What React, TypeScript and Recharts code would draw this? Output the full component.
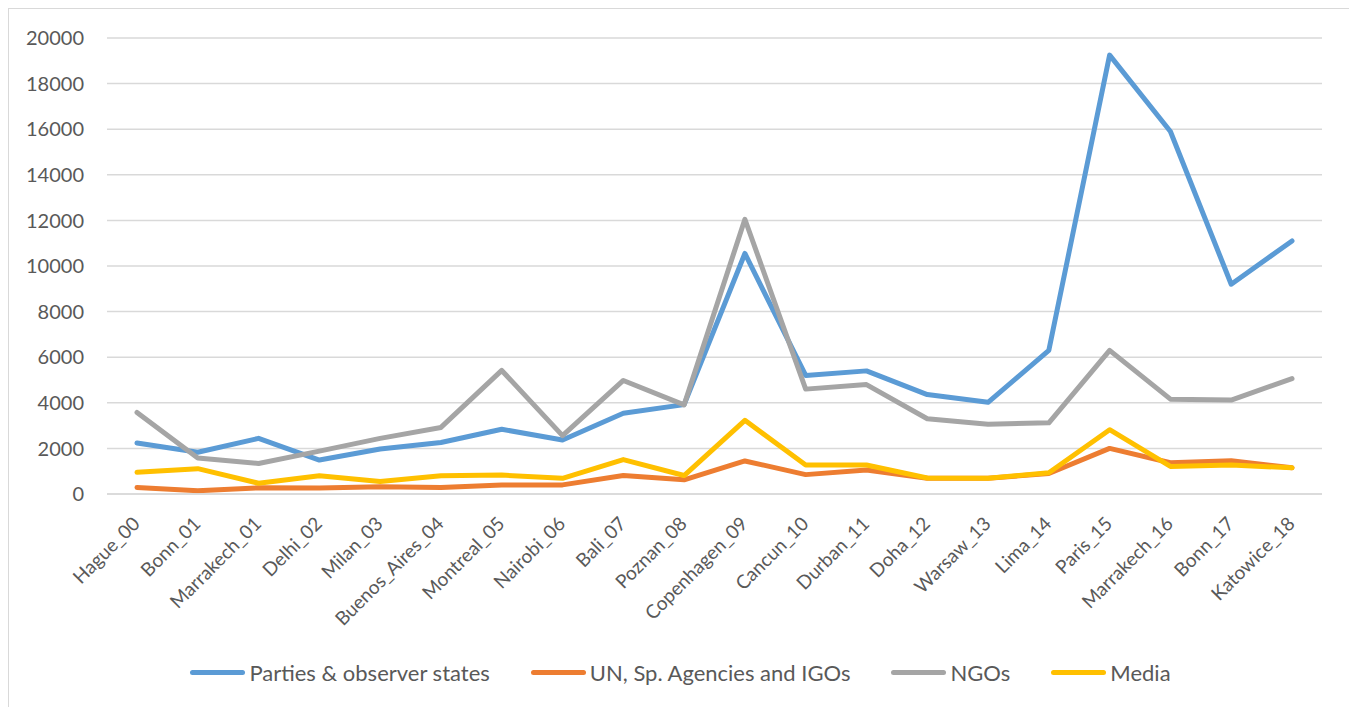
import React from "react";
import { LineChart, Line, XAxis, YAxis, CartesianGrid, Legend } from "recharts";

const categories = [
  "Hague_00", "Bonn_01", "Marrakech_01", "Delhi_02", "Milan_03", "Buenos_Aires_04",
  "Montreal_05", "Nairobi_06", "Bali_07", "Poznan_08", "Copenhagen_09", "Cancun_10",
  "Durban_11", "Doha_12", "Warsaw_13", "Lima_14", "Paris_15", "Marrakech_16",
  "Bonn_17", "Katowice_18",
];
const parties = [2240, 1830, 2440, 1490, 1970, 2260, 2840, 2370, 3540, 3920, 10550, 5200, 5400, 4360, 4020, 6300, 19250, 15900, 9200, 11100];
const unAgencies = [290, 140, 270, 260, 320, 280, 400, 400, 810, 620, 1450, 850, 1050, 690, 690, 900, 2000, 1370, 1460, 1150];
const ngos = [3580, 1580, 1340, 1880, 2440, 2920, 5420, 2560, 4980, 3910, 12050, 4600, 4800, 3300, 3060, 3120, 6300, 4160, 4120, 5060];
const media = [950, 1110, 470, 800, 550, 800, 830, 690, 1510, 810, 3230, 1270, 1270, 700, 690, 930, 2820, 1210, 1270, 1150];
const yTicks = [0, 2000, 4000, 6000, 8000, 10000, 12000, 14000, 16000, 18000, 20000];

const seriesDefs = [
  { key: "parties", name: "Parties & observer states", color: "#5B9BD5", values: parties },
  { key: "un", name: "UN, Sp. Agencies and IGOs", color: "#ED7D31", values: unAgencies },
  { key: "ngos", name: "NGOs", color: "#A5A5A5", values: ngos },
  { key: "media", name: "Media", color: "#FFC000", values: media },
];

const data = categories.map((c, i) => {
  const row: any = { name: c };
  seriesDefs.forEach((s) => (row[s.key] = s.values[i]));
  return row;
});

const FONT = "Lato, 'Open Sans', sans-serif";
const TEXT = "#595959";

const XTick = (props: any) => {
  const { x, y, payload } = props;
  return (
    <g transform={`translate(${x + 4},${y + 31})`}>
      <text
        x={0}
        y={0}
        transform="rotate(-45)"
        textAnchor="end"
        fill={TEXT}
        fontSize={19}
        fontFamily={FONT}
      >
        {payload.value}
      </text>
    </g>
  );
};

const LegendContent = () => {
  return (
    <div style={{ display: "flex", justifyContent: "center", alignItems: "center", fontFamily: FONT, fontSize: 22, color: TEXT, height: 40, paddingLeft: 30 }}>
      {seriesDefs.map((s, i) => (
        <div key={s.key} style={{ display: "flex", alignItems: "center", marginRight: i < 3 ? 41 : 0 }}>
          <span style={{ display: "inline-block", width: 55, height: 5, borderRadius: 3, background: s.color, marginRight: 4 }} />
          <span>{s.name}</span>
        </div>
      ))}
    </div>
  );
};

export default function App() {
  return (
    <div style={{ width: 1341, height: 698, border: "1px solid #d9d9d9", boxSizing: "content-box", background: "#fff" }}>
      <LineChart
        width={1341}
        height={698}
        data={data}
        margin={{ top: 29, right: 28, bottom: 15, left: 0 }}
      >
        <CartesianGrid vertical={false} stroke="#d9d9d9" strokeWidth={1.5} />
        <XAxis
          dataKey="name"
          interval={0}
          height={158}
          padding={{ left: 30, right: 30 }}
          tick={<XTick />}
          tickLine={false}
          tickSize={0}
          tickMargin={0}
          axisLine={{ stroke: "#d9d9d9", strokeWidth: 1.5 }}
        />
        <YAxis
          width={98}
          domain={[0, 20000]}
          ticks={yTicks}
          interval={0}
          tickLine={false}
          axisLine={false}
          tickSize={0}
          tickMargin={23}
          tick={{ fill: TEXT, fontSize: 20, fontFamily: FONT }}
        />
        <Legend verticalAlign="bottom" content={<LegendContent />} wrapperStyle={{ height: 40 }} />
        {seriesDefs.map((s) => (
          <Line
            key={s.key}
            type="linear"
            dataKey={s.key}
            name={s.name}
            stroke={s.color}
            strokeWidth={5}
            dot={false}
            activeDot={false}
            isAnimationActive={false}
            strokeLinejoin="round"
            strokeLinecap="round"
          />
        ))}
      </LineChart>
    </div>
  );
}
